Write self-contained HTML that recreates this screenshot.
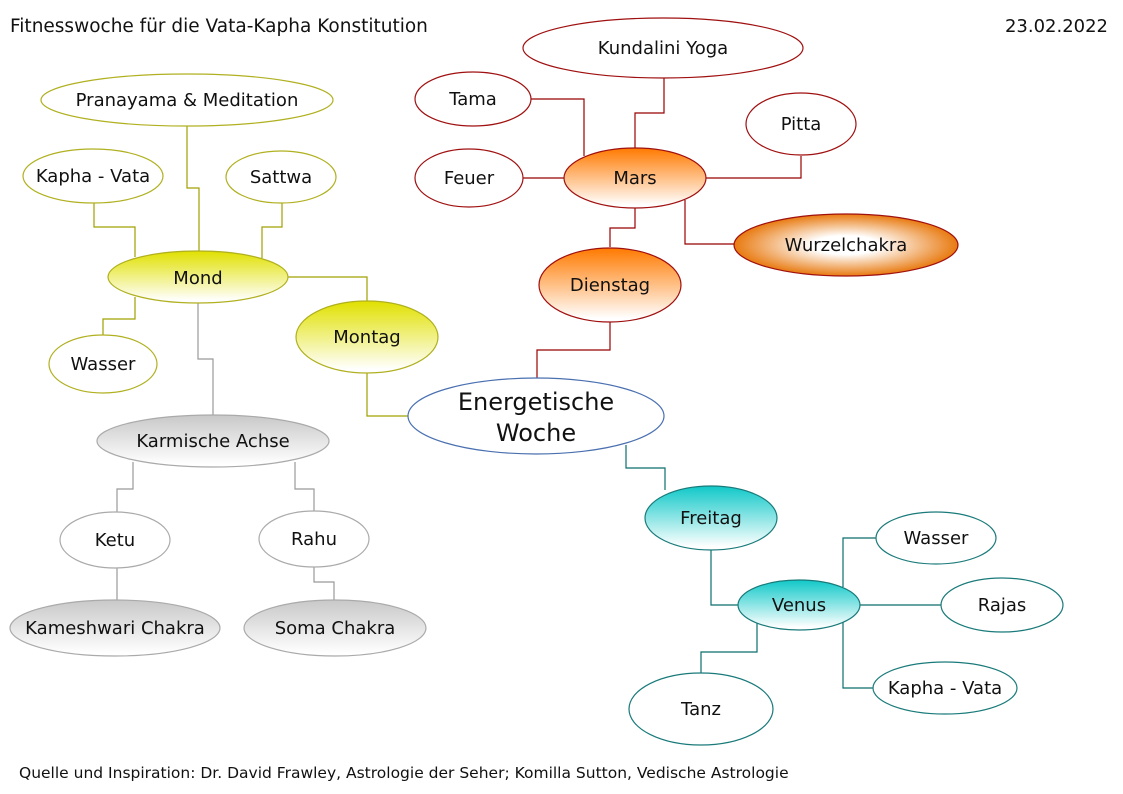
<!DOCTYPE html>
<html><head><meta charset="utf-8"><style>
html,body{margin:0;padding:0;background:#fff}
svg{display:block}
text{font-family:"DejaVu Sans","Liberation Sans",sans-serif;fill:#111}
</style></head><body>
<svg width="1123" height="794" viewBox="0 0 1123 794" xmlns="http://www.w3.org/2000/svg">
<defs>
<linearGradient id="gy" x1="0" y1="0" x2="0" y2="1"><stop offset="0" stop-color="#e0e000"/><stop offset="0.95" stop-color="#fff"/></linearGradient>
<linearGradient id="go" x1="0" y1="0" x2="0" y2="1"><stop offset="0" stop-color="#ff7a00"/><stop offset="0.95" stop-color="#fff"/></linearGradient>
<linearGradient id="gg" x1="0" y1="0" x2="0" y2="1"><stop offset="0" stop-color="#c8c8c8"/><stop offset="0.95" stop-color="#fff"/></linearGradient>
<linearGradient id="gc" x1="0" y1="0" x2="0" y2="1"><stop offset="0" stop-color="#10c8c8"/><stop offset="0.95" stop-color="#fff"/></linearGradient>
<radialGradient id="gw" cx="0.5" cy="0.5" r="0.5"><stop offset="0.3" stop-color="#fff"/><stop offset="1" stop-color="#e87a10"/></radialGradient>
</defs>
<text x="10" y="32" font-size="18.5">Fitnesswoche für die Vata-Kapha Konstitution</text>
<text x="1108" y="32" font-size="18" text-anchor="end">23.02.2022</text>
<text x="19" y="778" font-size="15.5">Quelle und Inspiration: Dr. David Frawley, Astrologie der Seher; Komilla Sutton, Vedische Astrologie</text>

<g fill="none" stroke-width="1.2">
<g stroke="#a0a000">
<polyline points="187,126 187,188 199,188 199,252"/>
<polyline points="94,203 94,227 135,227 135,257"/>
<polyline points="282,203 282,227 262,227 262,258"/>
<polyline points="288,277 367,277 367,301"/>
<polyline points="135,297 135,319 103,319 103,335"/>
<polyline points="367,372 367,416 408,416"/>
</g>
<g stroke="#999">
<polyline points="198,303 198,359 213,359 213,415"/>
<polyline points="133,462 133,489 117,489 117,512"/>
<polyline points="295,462 295,489 314,489 314,511"/>
<polyline points="117,567 117,600"/>
<polyline points="314,566 314,582 334,582 334,600"/>
</g>
<g stroke="#990000">
<polyline points="664,78 664,113 635,113 635,148"/>
<polyline points="531,99 584,99 584,156"/>
<polyline points="523,178 564,178"/>
<polyline points="706,178 801,178 801,156"/>
<polyline points="685,200 685,244 734,244"/>
<polyline points="635,208 635,228 610,228 610,247"/>
<polyline points="610,322 610,350 537,350 537,378"/>
</g>
<g stroke="#0b6e6e">
<polyline points="626,445 626,468 665,468 665,490"/>
<polyline points="711,550 711,605 738,605"/>
<polyline points="843,587 843,538 876,538"/>
<polyline points="860,605 941,605"/>
<polyline points="843,622 843,688 873,688"/>
<polyline points="757,622 757,652 701,652 701,674"/>
</g>
</g>

<g stroke-width="1.2">
<g stroke="#b0b020">
<ellipse cx="187" cy="100" rx="146" ry="26" fill="#fff"/>
<ellipse cx="93" cy="176" rx="70" ry="27" fill="#fff"/>
<ellipse cx="281" cy="177" rx="55" ry="26" fill="#fff"/>
<ellipse cx="198" cy="277" rx="90" ry="26" fill="url(#gy)"/>
<ellipse cx="103" cy="364" rx="54" ry="29" fill="#fff"/>
<ellipse cx="367" cy="337" rx="71" ry="36" fill="url(#gy)"/>
</g>
<g stroke="#aaa">
<ellipse cx="213" cy="441" rx="116" ry="26" fill="url(#gg)"/>
<ellipse cx="115" cy="540" rx="55" ry="28" fill="#fff"/>
<ellipse cx="314" cy="539" rx="55" ry="28" fill="#fff"/>
<ellipse cx="115" cy="628" rx="105" ry="28" fill="url(#gg)"/>
<ellipse cx="335" cy="628" rx="91" ry="28" fill="url(#gg)"/>
</g>
<g stroke="#a01010">
<ellipse cx="663" cy="48" rx="140" ry="30" fill="#fff"/>
<ellipse cx="473" cy="99" rx="58" ry="27" fill="#fff"/>
<ellipse cx="469" cy="178" rx="54" ry="29" fill="#fff"/>
<ellipse cx="635" cy="178" rx="71" ry="30" fill="url(#go)"/>
<ellipse cx="801" cy="124" rx="55" ry="31" fill="#fff"/>
<ellipse cx="846" cy="245" rx="112" ry="31" fill="url(#gw)"/>
<ellipse cx="610" cy="285" rx="71" ry="37" fill="url(#go)"/>
</g>
<ellipse cx="536" cy="416" rx="128" ry="38" fill="#fff" stroke="#4a70b0"/>
<g stroke="#1a7a7a">
<ellipse cx="711" cy="518" rx="66" ry="32" fill="url(#gc)"/>
<ellipse cx="799" cy="605" rx="61" ry="25" fill="url(#gc)"/>
<ellipse cx="936" cy="538" rx="60" ry="26" fill="#fff"/>
<ellipse cx="1002" cy="605" rx="61" ry="27" fill="#fff"/>
<ellipse cx="945" cy="688" rx="72" ry="26" fill="#fff"/>
<ellipse cx="701" cy="709" rx="72" ry="36" fill="#fff"/>
</g>
</g>

<g font-size="18" text-anchor="middle">
<text x="187" y="106">Pranayama &amp; Meditation</text>
<text x="93" y="182">Kapha - Vata</text>
<text x="281" y="183">Sattwa</text>
<text x="198" y="284">Mond</text>
<text x="103" y="370">Wasser</text>
<text x="367" y="343">Montag</text>
<text x="213" y="447">Karmische Achse</text>
<text x="115" y="546">Ketu</text>
<text x="314" y="545">Rahu</text>
<text x="115" y="634">Kameshwari Chakra</text>
<text x="335" y="634">Soma Chakra</text>
<text x="663" y="54">Kundalini Yoga</text>
<text x="473" y="105">Tama</text>
<text x="469" y="184">Feuer</text>
<text x="635" y="184">Mars</text>
<text x="801" y="130">Pitta</text>
<text x="846" y="251">Wurzelchakra</text>
<text x="610" y="291">Dienstag</text>
<text x="711" y="524">Freitag</text>
<text x="799" y="611">Venus</text>
<text x="936" y="544">Wasser</text>
<text x="1002" y="611">Rajas</text>
<text x="945" y="694">Kapha - Vata</text>
<text x="701" y="715">Tanz</text>
<text x="536" y="410" font-size="24">Energetische</text>
<text x="536" y="441" font-size="24">Woche</text>
</g>
</svg>
</body></html>
